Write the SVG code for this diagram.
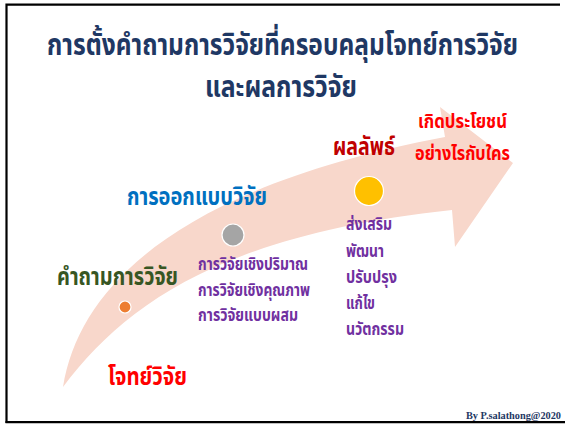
<svg xmlns="http://www.w3.org/2000/svg" width="565" height="424" viewBox="0 0 565 424">
<style>
.th{font-family:"Noto Sans Thai","Noto Serif Thai","Liberation Serif",serif;font-weight:bold}
.title{font-size:30px;fill:#1F3864}
.h{font-size:25px}
.sub{font-size:20px}
.lst{font-size:17px;fill:#7030A0}
.dot{stroke:#FFFFFF;stroke-width:1.2}
</style>
<rect width="565" height="424" fill="#FFFFFF"/>
<g id="frame" fill="none" stroke="#000000" stroke-width="2.2">
<path d="M6.5,423 V4.6 H560"/>
<path d="M5.5,422.2 H565"/>
</g>
<g id="title">
<text class="th title" x="47" y="55" textLength="471" lengthAdjust="spacingAndGlyphs">การตั้งคำถามการวิจัยที่ครอบคลุมโจทย์การวิจัย</text>
<text class="th title" x="205" y="97" textLength="152" lengthAdjust="spacingAndGlyphs">และผลการวิจัย</text>
</g>
<g id="connectors">
<path id="arrow" d="M63,387 C80,280 190,185 445,137 L440,107 L513,163 L455,247 L452,210 C220,235 125,305 63,387 Z" fill="#F8D7CB"/>
</g>
<g id="node-question">
<circle class="dot" cx="125" cy="307" r="6" fill="#ED7D31"/>
<text class="th h" x="57" y="285" fill="#375623" textLength="121" lengthAdjust="spacingAndGlyphs">คำถามการวิจัย</text>
</g>
<g id="node-problem">
<text class="th h" x="108" y="385" fill="#FF0000" textLength="79" lengthAdjust="spacingAndGlyphs">โจทย์วิจัย</text>
</g>
<g id="node-design">
<circle class="dot" cx="233" cy="235" r="11" fill="#A5A5A5"/>
<text class="th h" x="127" y="205" fill="#0070C0" textLength="140" lengthAdjust="spacingAndGlyphs">การออกแบบวิจัย</text>
<text class="th lst" x="198" y="270" textLength="110" lengthAdjust="spacingAndGlyphs">การวิจัยเชิงปริมาณ</text>
<text class="th lst" x="198" y="296" textLength="112" lengthAdjust="spacingAndGlyphs">การวิจัยเชิงคุณภาพ</text>
<text class="th lst" x="198" y="321" textLength="100" lengthAdjust="spacingAndGlyphs">การวิจัยแบบผสม</text>
</g>
<g id="node-result">
<circle class="dot" cx="369" cy="191" r="14.5" fill="#FFC000"/>
<text class="th h" x="333" y="155" fill="#C00000" textLength="62" lengthAdjust="spacingAndGlyphs">ผลลัพธ์</text>
<text class="th lst" x="346" y="230" textLength="46" lengthAdjust="spacingAndGlyphs">ส่งเสริม</text>
<text class="th lst" x="346" y="257" textLength="38" lengthAdjust="spacingAndGlyphs">พัฒนา</text>
<text class="th lst" x="346" y="283" textLength="51" lengthAdjust="spacingAndGlyphs">ปรับปรุง</text>
<text class="th lst" x="346" y="309" textLength="29" lengthAdjust="spacingAndGlyphs">แก้ไข</text>
<text class="th lst" x="346" y="335" textLength="58" lengthAdjust="spacingAndGlyphs">นวัตกรรม</text>
</g>
<g id="node-benefit">
<text class="th sub" x="418" y="128" fill="#FF0000" textLength="89" lengthAdjust="spacingAndGlyphs">เกิดประโยชน์</text>
<text class="th sub" x="415" y="160" fill="#FF0000" textLength="95" lengthAdjust="spacingAndGlyphs">อย่างไรกับใคร</text>
</g>
<g id="credit">
<text x="466" y="419" font-family="Liberation Serif,serif" font-weight="bold" font-size="10.5" fill="#1F3864" textLength="95" lengthAdjust="spacingAndGlyphs">By P.salathong@2020</text>
</g>
</svg>
